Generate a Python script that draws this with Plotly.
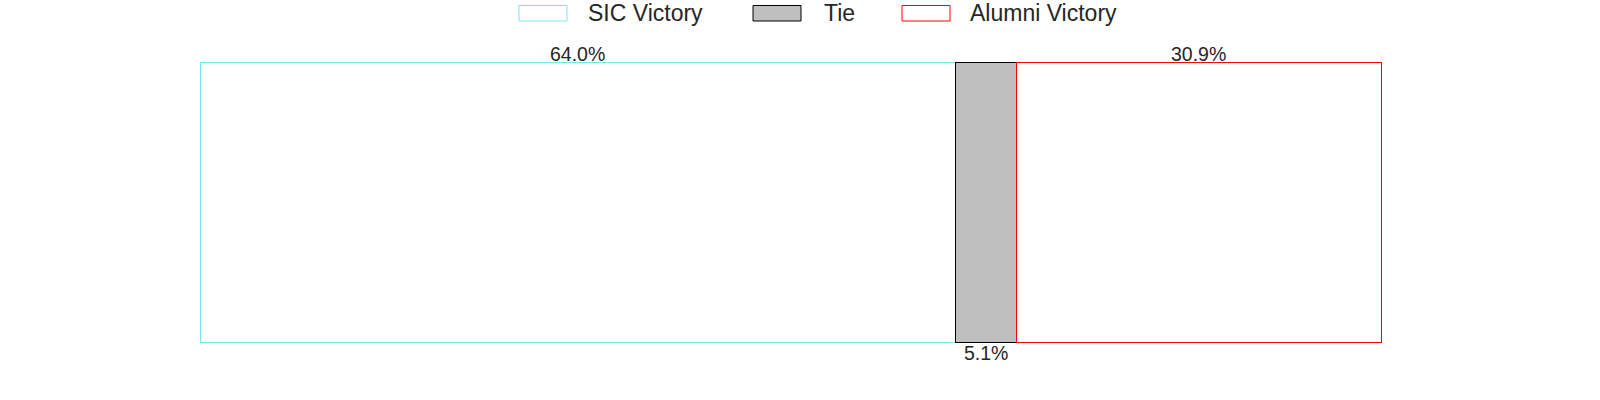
import plotly.graph_objects as go

categories = ["SIC Victory", "Tie", "Alumni Victory"]
values = [64.0, 5.1, 30.9]
labels = ["64.0%", "5.1%", "30.9%"]
label_side = ["top", "bottom", "top"]
fills = ["#ffffff", "#bfbfbf", "#ffffff"]
borders = ["#7ee3f0", "#000000", "#ff0000"]

W, H = 1600, 400
OFF = 0
BX0, BX1, BY0, BY1 = 200, 1381, 62, 342
PAD = 10
L = BX0 - OFF - PAD
T = BY0 - OFF - PAD
pw = (BX1 - BX0) + 2 * PAD
ph = (BY1 - BY0) + 2 * PAD
R = W - L - pw
B = H - T - ph
total = sum(values)
xpad = PAD * total / (BX1 - BX0)
ypad = PAD * 1.0 / (BY1 - BY0)

fig = go.Figure()
for c, v, f, b in zip(categories, values, fills, borders):
    fig.add_trace(go.Bar(
        y=[""], x=[v], name=c, orientation="h", width=1,
        marker=dict(color=f, line=dict(color=b, width=1)),
        showlegend=False, hoverinfo="skip",
    ))

annotations = []
cum = 0
for v, lab, side in zip(values, labels, label_side):
    mid = cum + v / 2
    cum += v
    if side == "top":
        annotations.append(dict(x=mid, y=0.5, xref="x", yref="y", text=lab,
                                showarrow=False, yanchor="bottom", yshift=-5,
                                font=dict(size=19.5, color="#262626")))
    else:
        annotations.append(dict(x=mid, y=-0.5, xref="x", yref="y", text=lab,
                                showarrow=False, yanchor="top", yshift=2,
                                font=dict(size=19.5, color="#262626")))

def px2x(px):
    return (px - OFF - L) / pw

def py2y(py):
    return (H - B - (py - OFF)) / ph

leg_rects = [(519, 567), (753, 801), (902, 950)]
leg_text_x = [586, 822, 968]
shapes = []
for (x0, x1), tx, c, f, b in zip(leg_rects, leg_text_x, categories, fills, borders):
    shapes.append(dict(type="rect", xref="paper", yref="paper",
                       x0=px2x(x0), x1=px2x(x1), y0=py2y(21), y1=py2y(5.5),
                       fillcolor=f, line=dict(color=b, width=1)))
    annotations.append(dict(x=px2x(tx), y=py2y(13), xref="paper", yref="paper",
                            text=c, showarrow=False, xanchor="left", yanchor="middle",
                            font=dict(size=23, color="#262626")))

fig.update_layout(
    barmode="stack",
    width=W, height=H,
    margin=dict(l=L, r=R, t=T, b=B, pad=0),
    plot_bgcolor="white", paper_bgcolor="white",
    font=dict(family="Liberation Sans, Arial, sans-serif", color="#262626"),
    xaxis=dict(range=[-xpad, total + xpad], visible=False, fixedrange=True),
    yaxis=dict(range=[-0.5 - ypad, 0.5 + ypad], visible=False, fixedrange=True),
    annotations=annotations,
    shapes=shapes,
    showlegend=False,
)

fig.write_html("out.html", config={"displayModeBar": False},
               post_script="document.body.style.margin='0px';")
